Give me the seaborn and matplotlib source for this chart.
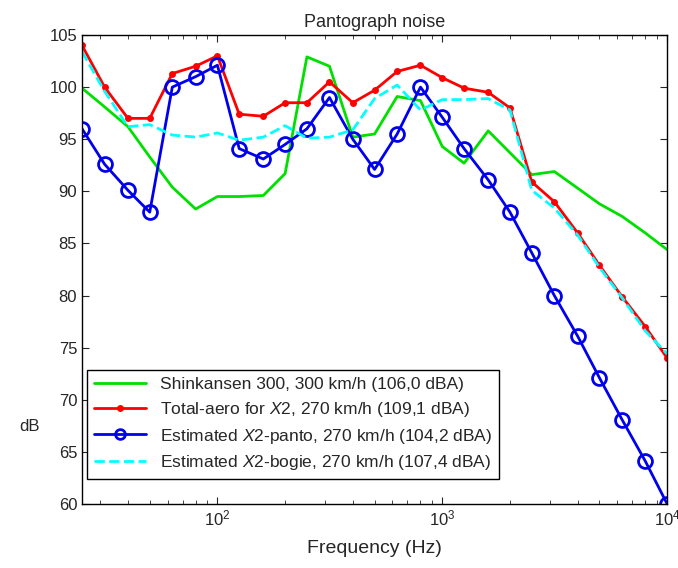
import numpy as np
import pandas as pd
import matplotlib
matplotlib.use("Agg")
import matplotlib.pyplot as plt
import seaborn as sns

# --- data (third-octave bands) ---
freq = [25, 31.5, 40, 50, 63, 80, 100, 125, 160, 200, 250, 315, 400, 500,
        630, 800, 1000, 1250, 1600, 2000, 2500, 3150, 4000, 5000, 6300, 8000, 10000]

shinkansen = [99.9, 98.1, 96.2, 93.3, 90.4, 88.3, 89.5, 89.5, 89.6, 91.7, 102.9, 102.0, 95.2, 95.5,
              99.1, 98.7, 94.3, 92.7, 95.8, 93.7, 91.6, 91.9, 90.3, 88.8, 87.6, 86.0, 84.4]
total_aero = [104.0, 100.0, 97.0, 97.0, 101.3, 102.0, 103.0, 97.4, 97.2, 98.5, 98.5, 100.5, 98.5, 99.7,
              101.5, 102.1, 100.9, 99.9, 99.5, 98.0, 90.9, 89.0, 86.0, 82.9, 79.9, 77.0, 74.0]
panto = [96.0, 92.6, 90.1, 88.0, 100.0, 101.0, 102.1, 94.1, 93.1, 94.5, 96.0, 99.0, 95.0, 92.1,
         95.5, 100.0, 97.1, 94.1, 91.1, 88.0, 84.1, 80.0, 76.1, 72.1, 68.1, 64.1, 60.0]
bogie = [103.4, 99.6, 96.2, 96.4, 95.4, 95.2, 95.6, 94.9, 95.2, 96.3, 95.1, 95.2, 95.9, 98.9,
         100.2, 97.8, 98.8, 98.8, 98.9, 97.8, 90.1, 88.4, 85.8, 82.7, 79.8, 76.6, 74.4]

labels = [
    "Shinkansen 300, 300 km/h (106,0 dBA)",
    r"Total-aero for $\mathit{X}$2, 270 km/h (109,1 dBA)",
    r"Estimated $\mathit{X}$2-panto, 270 km/h (104,2 dBA)",
    r"Estimated $\mathit{X}$2-bogie, 270 km/h (107,4 dBA)",
]

sns.set_style("ticks")
plt.rcParams['font.family'] = ['Liberation Sans', 'DejaVu Sans']
plt.rcParams['mathtext.fontset'] = 'custom'
plt.rcParams['mathtext.rm'] = 'Liberation Sans'
plt.rcParams['mathtext.it'] = 'Liberation Sans:italic'

fig = plt.figure(figsize=(6.78, 5.68), dpi=100)
ax = fig.add_axes([0.121, 0.1127, 0.863, 0.8257])

sns.lineplot(x=freq, y=shinkansen, ax=ax, color="#00e000", lw=2, label=labels[0])
sns.lineplot(x=freq, y=total_aero, ax=ax, color="red", lw=2, marker="o",
             markersize=5, markeredgewidth=0, label=labels[1])
sns.lineplot(x=freq, y=panto, ax=ax, color="#0000ee", lw=2, marker="o",
             markersize=10, markerfacecolor="none", markeredgecolor="#0000ee",
             markeredgewidth=2, label=labels[2])
sns.lineplot(x=freq, y=bogie, ax=ax, color="cyan", lw=2, linestyle="--",
             dashes=(4, 2), label=labels[3])

ax.set_xscale("log")
ax.set_xlim(25, 10000)
ax.set_ylim(60, 105)
ax.set_yticks(np.arange(60, 106, 5))
ax.tick_params(which="both", direction="in", top=True, right=True, labelsize=12)
ax.tick_params(which="major", length=5)
ax.tick_params(which="minor", length=3)
for s in ax.spines.values():
    s.set_linewidth(1)
    s.set_color("black")

ax.set_title("Pantograph noise", fontsize=13)
ax.set_xlabel("Frequency (Hz)", fontsize=14, labelpad=8)
ax.set_ylabel("dB", fontsize=12, rotation=0)
ax.yaxis.set_label_coords(-0.09, 0.15)

leg = ax.legend(loc="upper left", bbox_to_anchor=(0.008, 0.286), fontsize=12.5,
                frameon=True, fancybox=False, framealpha=1, borderaxespad=0,
                handlelength=3.0, labelspacing=0.45)
leg.get_frame().set_edgecolor("black")
leg.get_frame().set_linewidth(1)
for h in leg.legend_handles:
    if h.get_marker() == "o" and h.get_markerfacecolor() == "none":
        h.set_markersize(7)

fig.savefig("out.png", dpi=100)
